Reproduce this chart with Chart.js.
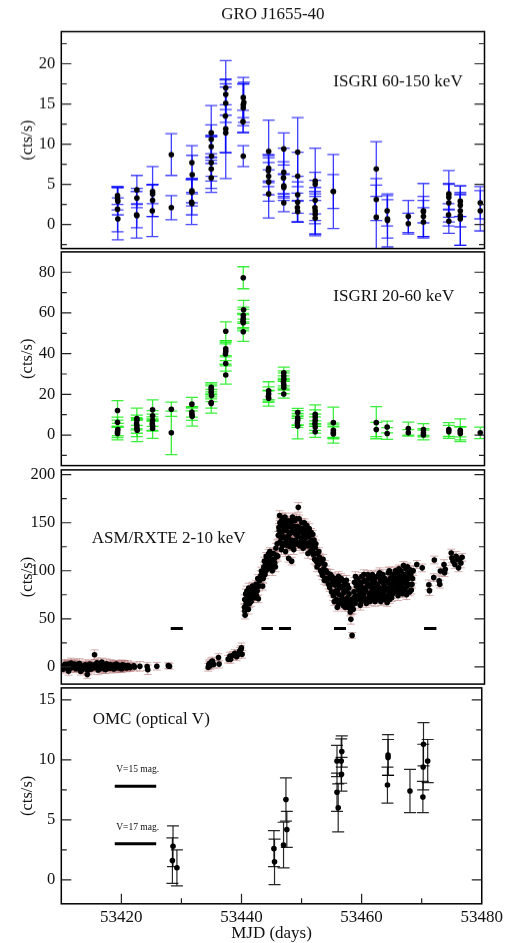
<!DOCTYPE html>
<html>
<head>
<meta charset="utf-8">
<script src="https://cdn.jsdelivr.net/npm/chart.js@4.4.1/dist/chart.umd.min.js"></script>
<style>
  html, body { margin: 0; padding: 0; background: #fff; }
  #wrap { position: relative; width: 507px; height: 943px; overflow: hidden; }
  .panel { position: absolute; left: 0; width: 507px; }
</style>
</head>
<body>
<div id="wrap">
  <div class="panel" style="top:0px;height:263.5px"><canvas id="p1"></canvas></div>
  <div class="panel" style="top:235.5px;height:245.5px"><canvas id="p2"></canvas></div>
  <div class="panel" style="top:453.5px;height:246px"><canvas id="p3"></canvas></div>
  <div class="panel" style="top:671.5px;height:271.5px"><canvas id="p4"></canvas></div>
</div>
<script>
// ---- data ----
const mjdTicks = [53420, 53440, 53460, 53480];
const mjdMinor = [53430, 53450, 53470];

// ISGRI 60-150 keV
const isgriHiMjd = [
  53419.3,53419.3,53419.35,53419.3,53419.35,
  53422.5,53422.5,53422.45,53422.5,
  53425.1,53425.1,53425.1,53425.05,
  53428.2,53428.2,
  53431.6,53431.65,53431.6,53431.6,53431.55,53431.6,
  53434.8,53434.8,53434.8,53434.85,53434.8,53434.8,53434.8,
  53437.2,53437.2,53437.2,53437.15,53437.2,53437.2,
  53440.1,53440.2,53440.1,53440.1,53440.05,53440.1,
  53444.3,53444.3,53444.25,53444.3,53444.3,53444.3,
  53446.8,53446.8,53446.75,53446.8,53446.8,53446.8,
  53449.1,53449.1,53449.1,53449.1,53449.05,53449.1,
  53452.0,53452.0,53452.0,53451.95,53452.0,53452.0,53452.0,
  53455.0,53455.0,
  53462.1,53462.1,53462.1,
  53463.9,53463.95,53463.95,
  53467.4,53467.4,
  53469.9,53469.9,53469.9,53469.9,
  53474.1,53474.1,53474.1,53474.05,53474.1,
  53476.0,53476.0,53476.0,53476.0,53476.0,
  53479.3,53479.3
];
const isgriHiRate = [
  3.6,3.2,2.9,1.9,0.7,
  4.3,3.3,1.2,1.1,
  4.1,3.8,3.0,1.7,
  8.7,2.1,
  7.7,6.2,4.2,4.0,2.8,2.6,
  11.4,10.6,9.7,8.5,7.7,6.9,5.8,
  17.0,16.2,15.1,13.5,11.9,11.4,
  15.8,15.2,14.9,14.5,12.8,8.5,
  9.1,7.0,6.7,6.0,5.3,3.8,
  9.4,6.5,5.8,4.8,4.6,2.7,
  9.0,6.0,3.7,2.8,2.1,1.6,
  5.4,5.0,3.0,2.1,1.7,1.3,0.8,
  4.1,4.1,
  6.9,3.1,0.9,
  1.7,0.7,0.5,
  1.0,0.1,
  1.7,1.6,1.0,0.3,
  3.8,3.4,2.7,1.2,0.4,
  2.9,2.4,1.7,1.1,0.7,
  2.7,1.7
];
const isgriHiErr = [
  1.1,1.4,1.7,2.8,2.6,
  1.8,1.2,2.9,1.5,
  3.1,1.2,2.0,3.2,
  2.6,1.5,
  2.1,2.4,1.5,1.7,2.8,1.4,
  3.4,1.8,1.4,2.5,3.2,1.5,1.8,
  3.4,1.9,2.4,4.5,3.0,5.7,
  2.5,2.5,2.6,3.0,1.4,1.3,
  3.9,1.6,2.0,2.3,2.4,3.0,
  2.0,3.0,2.0,1.5,1.6,1.1,
  4.3,3.0,2.3,2.5,1.8,1.3,
  4.1,1.5,2.5,2.0,2.9,2.5,2.2,
  2.1,4.6,
  3.4,2.6,4.0,
  1.9,2.4,3.3,
  2.0,1.3,
  3.4,1.4,2.5,1.8,
  2.9,1.6,2.4,1.4,1.5,
  1.9,1.4,2.0,3.7,3.3,
  2.0,2.5
];
const p1Ticks = [0, 5, 10, 15, 20];
const p1Minor = [-2.5, 2.5, 7.5, 12.5, 17.5, 22.5];

// ISGRI 20-60 keV
const isgriLoMjd = [
  53419.3,53419.3,53419.35,53419.3,53419.3,
  53422.5,53422.5,53422.45,53422.5,53422.5,53422.55,
  53425.1,53425.1,53425.1,53425.05,53425.1,53425.1,
  53428.2,53428.2,
  53431.6,53431.6,53431.6,53431.65,
  53434.8,53434.8,53434.8,53434.85,53434.8,53434.8,
  53437.2,53437.2,53437.2,53437.15,53437.2,53437.2,
  53440.1,53440.15,53440.1,53440.1,53440.05,53440.1,53440.1,
  53444.3,53444.3,53444.25,53444.3,
  53446.8,53446.8,53446.8,53446.75,53446.8,53446.8,53446.8,
  53449.1,53449.1,53449.1,53449.05,53449.1,
  53452.0,53452.0,53452.0,53451.95,53452.0,53452.0,
  53455.0,53455.0,53455.0,53455.0,
  53462.1,53462.1,
  53463.9,53463.9,
  53467.4,53467.4,
  53469.9,53469.9,53469.9,
  53474.1,53474.1,
  53476.0,53476.0,53476.0,
  53479.3
];
const isgriLoRate = [
  12.1,6.3,2.7,1.6,0.8,
  8.1,7.3,5.6,4.4,3.2,2.4,
  12.4,9.5,7.3,5.6,4.4,3.2,
  12.7,1.1,
  15.2,11.3,10.2,9.2,
  23.5,22.4,21.0,19.4,16.0,15.5,
  51.0,42.4,41.1,39.8,35.2,29.5,
  77.3,61.6,58.9,57.3,56.0,55.2,50.8,
  21.8,20.2,18.9,18.1,
  30.6,29.0,27.4,26.1,24.7,23.4,20.2,
  11.1,8.5,7.3,6.0,4.4,
  10.2,8.9,7.3,5.6,4.0,1.6,
  6.1,2.4,1.1,0.5,
  6.1,2.7,
  4.0,0.8,
  3.2,1.1,
  2.7,1.1,0.0,
  2.7,1.6,
  2.4,1.6,0.8,
  1.1
];
const isgriLoErr = [
  4.8,2.5,3.0,2.8,3.2,
  5.1,2.5,3.0,3.5,4.0,5.6,
  4.9,2.5,3.0,3.3,2.5,4.8,
  3.5,10.7,
  3.3,2.5,3.0,4.8,
  2.3,2.6,3.2,3.0,2.8,4.7,
  4.6,4.0,4.5,5.0,3.8,4.5,
  5.4,4.6,4.0,4.5,3.8,4.0,4.8,
  4.4,3.5,2.8,3.9,
  2.8,2.5,3.2,3.0,2.5,3.0,2.0,
  2.0,3.5,2.5,2.2,6.3,
  4.6,3.5,3.0,3.3,3.0,2.7,
  7.6,3.5,3.0,4.5,
  7.9,3.5,
  2.9,2.9,
  3.2,1.6,
  2.9,2.0,2.4,
  3.4,3.2,
  5.6,2.5,3.2,
  2.8
];
const p2Ticks = [0, 20, 40, 60, 80];
const p2Minor = [-10, 10, 30, 50, 70];

// ASM/RXTE 2-10 keV
const asmMjd = [
  53410.1,53410.4,53410.6,53410.8,53411.0,53411.2,53411.4,53411.6,53411.8,53412.0,
  53412.2,53412.4,53412.6,53412.8,53413.0,53413.2,53413.4,53413.6,53413.8,53414.0,
  53414.2,53414.3,53414.5,53414.7,53414.9,53415.1,53415.3,53415.5,53415.7,53415.9,
  53416.1,53416.3,53416.5,53416.7,53416.9,53417.1,53417.3,53417.5,53417.7,53417.9,
  53418.1,53418.3,53418.5,53418.7,53418.9,53419.1,53419.3,53419.5,53419.7,53419.9,
  53420.1,53420.3,53420.5,53420.8,53421.0,53421.3,53422.0,53423.0,53424.2,53424.3,
  53425.8,53427.7,53427.9,53434.3,53434.4,53434.5,53434.6,53434.8,53435.0,53435.2,
  53436.0,53436.1,53437.6,53437.9,53438.0,53438.4,53438.7,53439.0,53439.3,53439.5,
  53439.7,53439.8,53439.9,53440.3,53440.35,53440.4,53440.5,53440.6,53440.7,53440.8,
  53440.9,53441.0,53441.1,53441.3,53441.5,53441.8,53442.0,53442.2,53442.4,53442.6,
  53442.8,53443.0,53443.1,53443.3,53443.5,53443.6,53443.8,53443.9,53444.1,53444.3,
  53444.5,53444.6,53444.8,53445.0,53445.1,53445.3,53445.5,53445.7,53445.8,53445.9,
  53446.0,53446.1,53446.2,53446.3,53446.4,53446.5,53446.6,53446.7,53446.8,53446.9,
  53447.0,53447.1,53447.2,53447.3,53447.5,53447.6,53447.7,53447.9,53448.0,53448.1,
  53448.3,53448.4,53448.6,53448.8,53448.9,53449.1,53449.2,53449.3,53449.5,53449.7,
  53449.8,53450.0,53450.1,53450.3,53450.5,53450.6,53450.8,53450.9,53451.1,53451.3,
  53451.5,53451.7,53451.8,53452.0,53452.2,53452.4,53452.5,53452.7,53452.9,53453.0,
  53453.2,53453.4,53453.6,53453.7,53453.9,53454.0,53454.2,53454.4,53454.5,53454.7,
  53454.9,53455.0,53455.2,53455.3,53455.5,53455.7,53455.9,53456.1,53456.2,53456.4,
  53456.6,53456.8,53457.0,53457.2,53457.3,53457.5,53457.6,53457.8,53457.9,53458.0,
  53458.1,53458.3,53458.4,53458.6,53458.8,53459.0,53459.2,53459.4,53459.6,53459.8,
  53460.0,53460.2,53460.4,53460.6,53460.8,53461.0,53461.2,53461.4,53461.6,53461.8,
  53462.0,53462.2,53462.4,53462.6,53462.8,53463.0,53463.2,53463.4,53463.6,53463.9,
  53464.0,53464.2,53464.4,53464.6,53464.8,53465.0,53465.2,53465.4,53465.6,53465.8,
  53466.0,53466.2,53466.4,53466.6,53466.7,53466.9,53467.1,53467.3,53467.5,53467.7,
  53467.9,53468.1,53468.8,53469.7,53470.8,53470.9,53471.6,53471.7,53472.5,53472.6,
  53472.7,53473.3,53473.4,53473.5,53474.5,53474.6,53474.8,53475.1,53475.3,53475.6,
  53475.7,53475.9,53476.1,53476.3,
  53455.1,53455.4,53455.8,53456.0,53456.3,53456.5,53456.7,53456.9,53457.1,53457.4,
  53458.2,53458.5,53458.7,53458.9,53459.1,53459.3,53459.5,53459.7,53459.9,53460.1,
  53460.3,53460.5,53460.7,53460.9,53461.1,53461.3,53461.5,53461.7,53461.9,53462.1,
  53462.3,53462.5,53462.7,53462.9,53463.1,53463.3,53463.5,53463.7,53464.1,53464.3,
  53464.5,53464.7,53464.9,53465.1,53465.3,53465.5,53465.7,53465.9,53466.1,53466.3,
  53466.5,53466.8,53467.0,53467.2,53467.4,53467.6,53467.8,53468.0,53468.2,53454.3,
  53446.05,53446.25,53446.45,53446.65,53446.85,53447.05,53447.25,53447.45,53447.65,53447.85,
  53448.05,53448.25,53448.45,53448.65,53448.85,53449.05,53449.45,53449.65,53449.95,53450.2,
  53450.4,53450.7,53451.0,53451.2,53451.4,53451.6,53451.9,53452.1,53452.3,53452.6,
  53452.8,53453.1,53453.3,53453.5,53453.8,53454.1,53454.6,53454.8,53443.4,53443.7,
  53444.0,53444.2,53444.4,53444.7,53444.9,53445.2,53445.4,53445.6,53440.35,53440.55,
  53440.75,53440.95,53441.2,53441.4,53441.6,53441.9,53442.1,53442.3,53442.5,53442.7,
  53410.3,53410.7,53411.1,53411.5,53411.9,53412.3,53412.7,53413.1,53413.5,53413.9,
  53414.4,53414.8,53415.2,53415.6,53416.0,53416.4,53416.8,53417.2,53417.6,53418.0,
  53418.4,53418.8,53419.2,53419.6,53420.0,53420.4,53420.9,53421.1,53421.4,53422.1,
  53455.15,53455.45,53455.65,53455.85,53456.05,53456.35,53456.55,53456.75,53456.95,53457.15,
  53457.35,53457.55,53457.7,53457.95,53458.15,53458.45,53458.65,53458.85,53459.05,53459.25,
  53459.45,53459.65,53459.85,53460.05,53460.25,53460.45,53460.65,53460.85,53461.05,53461.25,
  53461.45,53461.65,53461.85,53462.05,53462.25,53462.45,53462.65,53462.85,53463.05,53463.25,
  53463.45,53463.65,53463.85,53464.05,53464.25,53464.45,53464.65,53464.85,53465.05,53465.25,
  53465.45,53465.65,53465.85,53466.05,53466.25,53466.45,53466.65,53466.85,53467.05,53467.25,
  53446.15,53446.35,53446.55,53446.75,53446.95,53447.15,53447.35,53447.55,53447.75,53447.95,
  53448.15,53448.35,53448.55,53448.75,53448.95,53449.15,53449.35,53449.55,53449.75,53449.9,
  53450.15,53450.35,53450.55,53450.75,53450.95,53451.15,53451.35,53451.55,53451.75,53451.95
];
const asmRate = [
  0.8,-1.5,2.5,-0.6,1.5,-4.7,1.2,4.0,-0.5,1.8,
  2.8,-2.0,0.3,-1.2,3.5,-4.5,1.0,-1.2,0.6,2.2,
  -2.6,-8.0,0.5,3.0,-2.5,1.8,-0.3,12.6,-0.8,4.2,
  -3.2,2.0,0.0,5.0,-1.8,1.5,-3.0,3.2,-0.5,0.8,
  2.4,-1.0,1.2,-2.2,0.6,2.8,-0.4,1.6,-1.6,0.4,
  2.0,-0.8,1.0,-1.2,1.4,0.2,1.0,0.5,0.3,-3.0,
  0.6,1.2,0.6,-0.5,2.0,3.4,1.0,5.0,6.0,2.5,
  9.6,2.8,8.0,11.2,7.8,12.0,14.0,10.5,13.0,16.3,
  18.0,19.8,13.0,62,70,53.8,75.9,66,79,69,
  73,82,65.7,71,76,80,72,86,79,70.8,
  89.5,95,99.7,84,104,110,100,115,107,118,
  120,113,104,110,118,108,123.5,128,115,137,
  145,157.5,130,150,122,140,155,147,127,135,
  156,120,142,133.7,152,113,138,125,148,110,
  144,130,152,138,154,128,166,145,140.5,134,
  150,123.5,138,142,128,147,118,136,130,140,
  122,116.7,132,124,110,118,106.5,114,100,108,
  95,102,106.5,92,89.5,98,86,82.6,96.3,78,
  88,74,76,85,70,80,66,69,82.6,74,
  64,78,70,65.7,85,62,76,57,49.4,70,
  32.7,60,78,66,84,72,88,76,68,82,
  74,90,79,70,86,76,92,80,71,88,
  78,94,83,72,90,80,96,84,74,67,
  88,79,92,84,76,95,86,80,98,88,
  78,100,90,105.5,82,94,75,97,86,101,
  80,92,106.5,103,85.4,79.3,92.9,111.2,89.5,86,
  99.7,106.5,98,101.4,118.4,113.3,110,106.5,115,111.6,
  103,112,108,114,
  90,79,88,75,92,84,70,88,80,72,
  68,88,74,92,80,70,86,94,78,82,
  70,88,96,72,84,74,90,82,68,86,
  74,96,82,76,88,74,92,80,98,70,
  80,96,86,78,92,84,74,94,86,80,
  96,88,102,84,92,78,96,86,100,92,
  142,138,152,128,148,134,150,126,146,140,
  132,156,122,140,128,146,126,144,132,150,
  134,126,144,120,132,138,112,128,104,120,
  110,98,112,90,100,92,86,94,92,96,
  112,102,108,118,100,112,104,116,58,64,
  72,60,78,68,84,76,82,74,92,84,
  -2.5,1.0,3.0,-1.8,2.0,-0.6,2.6,-0.2,-2.8,1.4,
  -3.5,1.0,-1.5,2.4,0.6,-2.0,1.8,-0.8,1.0,-1.4,
  0.2,2.0,-1.0,0.8,-2.0,1.6,-0.4,0.8,-0.8,-0.2,
  68,92,62,94,84,66,90,78,62,90,
  68,82,66,60,64,72,94,70,90,82,
  64,88,72,96,78,66,84,92,68,86,
  96,76,92,70,86,78,98,68,92,78,
  70,90,82,74,100,86,72,90,84,100,
  90,82,102,92,84,76,96,80,90,104,
  150,134,126,152,144,130,146,136,128,152,
  140,126,146,132,144,136,154,130,142,128,
  130,146,136,140,126,138,126,130,124,118
];
const asmErr = [
  5,4,5,4,5,4,4,5,4,5,
  5,4,5,4,5,4,4,5,4,5,
  5,4,5,4,5,4,4,5,4,5,
  5,4,5,4,5,4,4,5,4,5,
  5,4,5,4,5,4,4,5,4,5,
  5,4,5,4,5,4,4,5,4,5,
  4,3,3,4,4,4,4,4,4,4,
  4,4,4,4,4,4,4,4,4,4,
  4,5,4,4,5,4,5,4,5,4,
  4,5,4,4,5,4,5,4,5,4,
  4,5,4,4,5,4,5,4,5,4,
  4,5,4,4,5,4,5,4,5,4,
  4,5,4,4,5,4,5,4,5,4,
  4,5,4,4,5,4,5,4,5,4,
  4,5,4,4,5,4,5,4,5,4,
  4,5,4,4,5,4,5,4,5,4,
  4,5,4,4,5,4,5,4,5,4,
  4,5,4,4,5,4,5,4,5,4,
  4,5,4,4,5,4,5,4,5,4,
  4,5,4,4,5,4,5,4,5,4,
  3,5,4,5,4,5,4,5,4,5,
  4,5,4,4,5,4,5,4,5,4,
  4,5,4,4,5,4,5,4,5,4,
  4,5,4,4,5,4,5,4,5,4,
  4,5,4,4,5,4,5,4,5,4,
  4,5,4,4,5,5,4,4,5,4,
  4,5,4,4,4,5,4,4,5,4,
  4,4,5,4,
  4,5,4,4,5,4,5,4,5,4,
  4,5,4,4,5,4,5,4,5,4,
  4,5,4,4,5,4,5,4,5,4,
  4,5,4,4,5,4,5,4,5,4,
  4,5,4,4,5,4,5,4,5,4,
  4,5,4,4,5,4,5,4,5,4,
  5,4,5,4,5,4,5,4,5,4,
  5,4,5,4,5,4,5,4,5,4,
  5,4,5,4,5,4,5,4,5,4,
  5,4,5,4,5,4,5,4,5,4,
  5,4,5,4,5,4,5,4,4,5,
  4,5,4,5,4,5,4,5,4,5,
  4,5,4,4,5,4,4,5,4,4,
  5,4,4,5,4,4,5,4,4,5,
  4,4,5,4,4,5,4,4,4,4,
  4,5,4,5,4,4,5,4,4,5,
  4,5,4,4,5,4,5,4,5,4,
  5,4,4,5,4,4,5,4,4,5,
  4,5,4,4,5,4,5,4,5,4,
  5,4,4,5,4,5,4,4,5,4,
  4,5,4,4,5,4,5,4,5,4,
  5,4,5,4,5,4,5,4,5,4,
  4,5,4,5,4,5,4,5,4,5,
  5,4,5,4,5,4,5,4,5,4
];
const asmBarStart = [53428.1, 53443.1, 53446.0, 53455.1, 53470.0];
const asmBarEnd = [53430.1, 53445.0, 53448.0, 53457.1, 53472.05];
const asmBarLevel = 40;
const p3Ticks = [0, 50, 100, 150, 200];
const p3Minor = [25, 75, 125, 175];

// OMC optical V
const omcMjd = [53428.5, 53428.6, 53429.25, 53445.4, 53445.5, 53447.0, 53447.4, 53447.55,
  53455.9, 53456.1, 53455.9, 53456.65, 53456.6, 53456.7, 53464.4, 53464.4, 53464.3,
  53468.05, 53470.3, 53470.25, 53470.2, 53471.0];
const omcRate = [1.6, 2.8, 1.0, 2.6, 1.5, 2.9, 6.7, 4.2,
  7.3, 6.0, 9.9, 8.8, 9.9, 10.7, 10.4, 10.2, 7.9,
  7.4, 11.3, 9.4, 6.9, 9.9];
const omcErr = [1.9, 1.7, 1.5, 1.5, 1.9, 1.9, 1.8, 1.5,
  1.6, 2.0, 1.3, 1.4, 1.85, 1.3, 1.7, 1.5, 1.5,
  1.8, 1.8, 1.9, 1.3, 1.8];
const omcRefLevel = [7.8, 3.0];
const omcRefLabel = ['V=15 mag.', 'V=17 mag.'];
const omcRefStart = 53418.9;
const omcRefEnd = 53425.8;
const p4Ticks = [0, 5, 10, 15];
const p4Minor = [2.5, 7.5, 12.5];

// ---- drawing ----
const SERIF = '"Liberation Serif", "DejaVu Serif", serif';
const INK = '#111';
const pts = (xs, ys) => xs.map((x, i) => ({ x, y: ys[i] }));

const errorBars = {
  id: 'errorBars',
  beforeDatasetsDraw(chart) {
    const { ctx, chartArea: a, scales: { x, y } } = chart;
    ctx.save();
    ctx.beginPath();
    ctx.rect(a.left, a.top, a.right - a.left, a.bottom - a.top);
    ctx.clip();
    chart.data.datasets.forEach(ds => {
      if (!ds.errors) return;
      ctx.strokeStyle = ds.errColor;
      ctx.lineWidth = ds.errWidth;
      ds.data.forEach((p, i) => {
        const e = ds.errors[i];
        const px = x.getPixelForValue(p.x);
        const top = y.getPixelForValue(p.y + e);
        const bot = y.getPixelForValue(p.y - e);
        ctx.beginPath();
        ctx.moveTo(px, top); ctx.lineTo(px, bot);
        ctx.moveTo(px - ds.cap, top); ctx.lineTo(px + ds.cap, top);
        ctx.moveTo(px - ds.cap, bot); ctx.lineTo(px + ds.cap, bot);
        ctx.stroke();
      });
    });
    ctx.restore();
  }
};

const frame = {
  id: 'frame',
  afterDraw(chart, args, opts) {
    const { ctx, chartArea: a, scales: { x, y } } = chart;
    ctx.save();
    ctx.strokeStyle = '#000';
    ctx.lineWidth = 1.5;
    ctx.strokeRect(a.left, a.top, a.right - a.left, a.bottom - a.top);
    ctx.lineWidth = 1.2;
    ctx.strokeStyle = '#222';
    ctx.beginPath();
    const marks = y.ticks.map(t => [t.value, 10]).concat(opts.yMinor.map(v => [v, 5.5]));
    marks.forEach(([v, len]) => {
      const py = y.getPixelForValue(v);
      if (py < a.top || py > a.bottom) return;
      ctx.moveTo(a.left, py); ctx.lineTo(a.left + len, py);
      ctx.moveTo(a.right, py); ctx.lineTo(a.right - len, py);
    });
    if (opts.xAxis) {
      const xm = mjdTicks.map(v => [v, 10]).concat(mjdMinor.map(v => [v, 5.5]));
      xm.forEach(([v, len]) => {
        const px = x.getPixelForValue(v);
        if (px <= a.left || px >= a.right) return;
        ctx.moveTo(px, a.bottom); ctx.lineTo(px, a.bottom - len);
      });
    }
    ctx.stroke();
    ctx.fillStyle = INK;
    ctx.font = '17px ' + SERIF;
    ctx.textBaseline = 'middle';
    ctx.textAlign = 'left';
    ctx.fillText(opts.label, a.left + opts.dx, a.top + opts.dy);
    if (opts.refLabels) {
      ctx.font = '9.5px ' + SERIF;
      omcRefLabel.forEach((t, i) => {
        ctx.fillText(t, x.getPixelForValue(omcRefStart) + 1.5, y.getPixelForValue(omcRefLevel[i]) - 16.5);
      });
    }
    ctx.restore();
  }
};

function yScale(min, max, ticks) {
  return {
    min, max,
    afterBuildTicks: s => { s.ticks = ticks.map(v => ({ value: v })); },
    afterFit: s => { s.width = 61.3; },
    grid: { display: false, drawTicks: false },
    border: { display: false },
    ticks: { color: INK, font: { family: SERIF, size: 16.5 }, padding: 6, callback: v => String(v) },
    title: { display: true, text: '(cts/s)', color: INK, font: { family: SERIF, size: 16.5 }, padding: { top: 17.5, bottom: 0 } }
  };
}
const hiddenX = { type: 'linear', min: 53410, max: 53480, display: false };

function panel(id, datasets, y, frameOpts, extra) {
  const opts = {
    responsive: true,
    maintainAspectRatio: false,
    animation: false,
    layout: { padding: extra.padding },
    plugins: {
      legend: { display: false },
      tooltip: { enabled: false },
      title: extra.title || { display: false },
      frame: frameOpts
    },
    scales: { x: extra.x || hiddenX, y }
  };
  return new Chart(document.getElementById(id), {
    type: 'scatter',
    data: { datasets },
    options: opts,
    plugins: [errorBars, frame]
  });
}

const dot = { pointRadius: 2.8, pointBackgroundColor: '#000', pointBorderWidth: 0, pointHoverRadius: 2.8 };

// panel 1
panel('p1', [
  Object.assign({ data: pts(isgriHiMjd, isgriHiRate), errors: isgriHiErr, errColor: 'rgba(0,0,255,0.75)', errWidth: 1.3, cap: 6 }, dot)
], yScale(-3, 24, p1Ticks), { yMinor: p1Minor, label: 'ISGRI 60-150 keV', dx: 272, dy: 50.2 }, {
  padding: { left: 0, right: 22.5, top: 0, bottom: 14 },
  title: { display: true, text: 'GRO J1655-40', color: INK, fullSize: false,
    font: { family: SERIF, size: 17, weight: 'normal' }, padding: { top: 4.8, bottom: 6.3 } }
});

// panel 2
panel('p2', [
  Object.assign({ data: pts(isgriLoMjd, isgriLoRate), errors: isgriLoErr, errColor: 'rgba(10,235,10,0.8)', errWidth: 1.3, cap: 6 }, dot)
], yScale(-15, 90, p2Ticks), { yMinor: p2Minor, label: 'ISGRI 20-60 keV', dx: 272, dy: 44.8 }, {
  padding: { left: 0, right: 22.5, top: 14, bottom: 14 }
});

// panel 3
const barData = [];
asmBarStart.forEach((s, i) => {
  barData.push({ x: s, y: asmBarLevel }, { x: asmBarEnd[i], y: asmBarLevel }, { x: asmBarEnd[i], y: null });
});
panel('p3', [
  Object.assign({ data: pts(asmMjd, asmRate), errors: asmErr, errColor: 'rgba(175,110,110,0.55)', errWidth: 1, cap: 4 }, dot),
  { data: barData, showLine: true, spanGaps: false, borderColor: '#000', borderWidth: 3, pointRadius: 0 }
], yScale(-18, 205, p3Ticks), { yMinor: p3Minor, label: 'ASM/RXTE 2-10 keV', dx: 30.4, dy: 68.5 }, {
  padding: { left: 0, right: 22.5, top: 14, bottom: 14 }
});

// panel 4
const refSets = omcRefLevel.map(lv => ({
  data: [{ x: omcRefStart, y: lv }, { x: omcRefEnd, y: lv }],
  showLine: true, borderColor: '#000', borderWidth: 3, pointRadius: 0
}));
panel('p4', [
  Object.assign({ data: pts(omcMjd, omcRate), errors: omcErr, errColor: 'rgba(0,0,0,0.85)', errWidth: 1.2, cap: 6 }, dot)
].concat(refSets), yScale(-2, 16, p4Ticks), { yMinor: p4Minor, label: 'OMC (optical V)', dx: 31.4, dy: 31.8, xAxis: true, refLabels: true }, {
  padding: { left: 0, right: 22.5, top: 14, bottom: 0 },
  x: {
    type: 'linear', position: 'bottom', min: 53410, max: 53480,
    afterBuildTicks: s => { s.ticks = mjdTicks.map(v => ({ value: v })); },
    afterFit: s => { s.height = 39.7; },
    grid: { display: false, drawTicks: false },
    border: { display: false },
    ticks: { color: INK, font: { family: SERIF, size: 17 }, padding: 4, maxRotation: 0, autoSkip: false, callback: v => String(v) },
    title: { display: true, text: 'MJD (days)', color: INK, font: { family: SERIF, size: 17 }, padding: 0 }
  }
});
</script>
</body>
</html>
